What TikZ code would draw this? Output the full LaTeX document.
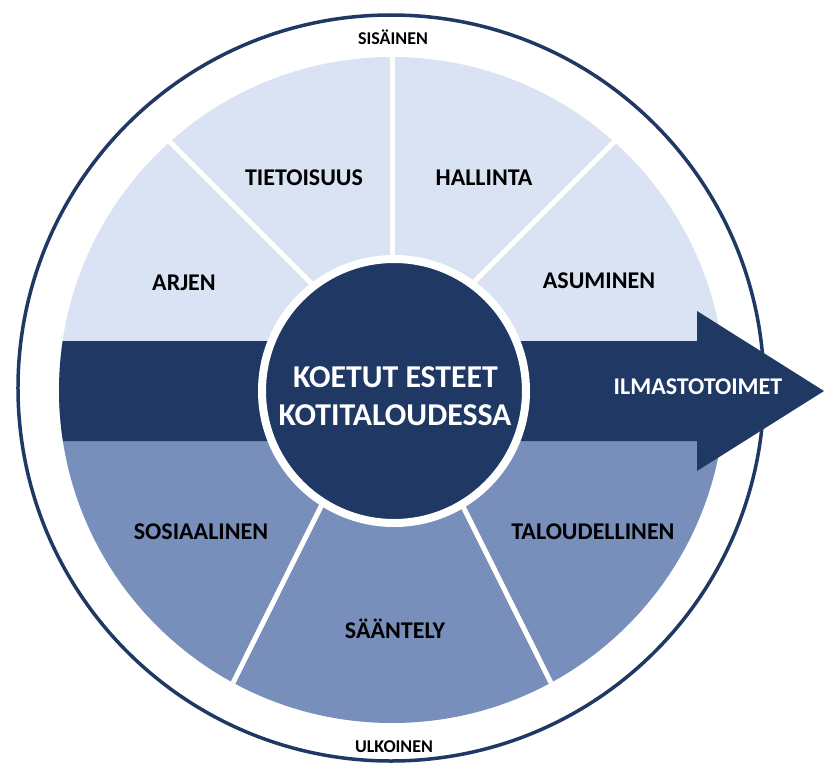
\documentclass[tikz,border=0pt]{standalone}
\usepackage{fontspec}
\setmainfont{Carlito}
\definecolor{navy}{HTML}{1F3864}
\definecolor{palebl}{HTML}{DAE3F3}
\definecolor{midbl}{HTML}{788FBC}
\tikzstyle{lab} = [font=\fontsize{24}{26}\selectfont\bfseries, anchor=base, inner sep=0pt]
\tikzstyle{side} = [font=\fontsize{18}{20}\selectfont\bfseries, anchor=base, inner sep=0pt]
\tikzstyle{core} = [font=\fontsize{31.8}{34}\selectfont\bfseries, text=white, anchor=base, inner sep=0pt]
\tikzstyle{gap} = [white, line width=5pt]
\begin{document}
\begin{tikzpicture}[x=1pt,y=1pt]
\useasboundingbox (-392,-374) rectangle (432,390);
\draw[navy, line width=3.5pt] (-1,2) circle[radius=373];
\fill[palebl] (0:333) arc[start angle=0, end angle=180, radius=333] -- cycle;
\fill[midbl] (180:333) arc[start angle=180, end angle=360, radius=333] -- cycle;
\fill[navy] ({180-asin(49/333)}:333)
    arc[start angle={180-asin(49/333)}, end angle={180+asin(51/333)}, radius=333]
    -- (305,-51) -- (305,-81) -- (432,-1) -- (305,79) -- (305,49) -- cycle;
\begin{scope}
\clip (0,0) circle[radius=333];
\coordinate (hub) at (0,26);
\foreach \a in {45,90,135,-63.5,-116.5}
    \draw[gap] (hub) -- ++(\a:400);
\end{scope}
\node (ydin) [circle, fill=navy, draw=white, line width=8pt, minimum size=264pt, inner sep=0pt] at (2,-1) {};
\node (koe1) [core] at (3.5,2.5) {KOETUT ESTEET};
\node (koe2) [core] at (3,-35.5) {KOTITALOUDESSA};
\node (ilma) [lab, text=white, font=\fontsize{24}{26}\selectfont\bfseries] at (306,-4.5) {ILMASTOTOIMET};
\node (tieto) [lab] at (-88,205) {TIETOISUUS};
\node (hall) [lab] at (92,205) {HALLINTA};
\node (arjen) [lab] at (-208,100) {ARJEN};
\node (asum) [lab] at (207,102) {ASUMINEN};
\node (sosi) [lab] at (-191,-149) {SOSIAALINEN};
\node (talo) [lab] at (201,-149) {TALOUDELLINEN};
\node (saan) [lab] at (3,-248) {SÄÄNTELY};
\node (sisa) [side] at (1,345.5) {SISÄINEN};
\node (ulko) [side] at (2,-362.5) {ULKOINEN};
\end{tikzpicture}
\end{document}
